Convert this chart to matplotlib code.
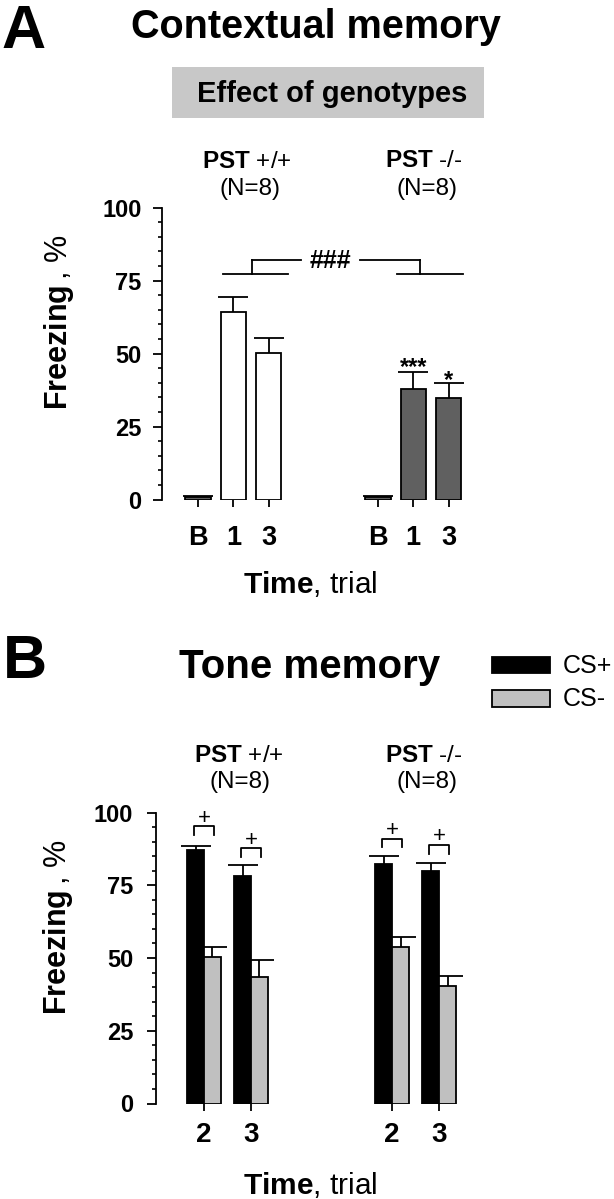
import matplotlib
matplotlib.use("Agg")
import matplotlib.pyplot as plt
from matplotlib.patches import Rectangle
from matplotlib.ticker import MultipleLocator
import numpy as np

plt.rcParams['font.family'] = ['Liberation Sans', 'DejaVu Sans']
plt.rcParams['mathtext.fontset'] = 'custom'
plt.rcParams['mathtext.rm'] = 'Liberation Sans'
plt.rcParams['mathtext.bf'] = 'Liberation Sans:bold'

# contextual memory (panel A)
ctx_labels = ['B', '1', '3']
ctx_wt_mean = [1.0, 64.1, 50.2]
ctx_wt_sem = [0.3, 5.2, 5.1]
ctx_ko_mean = [0.8, 37.8, 34.8]
ctx_ko_sem = [0.3, 5.7, 5.0]

# tone memory (panel B)
tone_labels = ['2', '3']
tone_wt_csp = [87.2, 78.1]
tone_wt_csp_sem = [1.4, 4.0]
tone_wt_csm = [50.5, 43.3]
tone_wt_csm_sem = [3.2, 6.1]
tone_ko_csp = [82.2, 79.9]
tone_ko_csp_sem = [2.7, 2.7]
tone_ko_csm = [53.7, 40.4]
tone_ko_csm_sem = [3.4, 3.3]
plus_y = [95.2, 87.8, 91.0, 88.9]

W, H = 614, 1199
fig = plt.figure(figsize=(W / 100, H / 100), dpi=100)


def fx(px):
    return px / W


def fy(px):
    return 1 - px / H


def up_err(ax, x, y, e, cap):
    # upper error bar only
    _, caps, _ = ax.errorbar(x, y, yerr=[np.zeros(len(y)), e], fmt='none', ecolor='black',
                             elinewidth=1.3, capsize=cap, capthick=1.3)
    for c in caps:
        if np.allclose(c.get_ydata(), y):
            c.set_visible(False)


def style_axis(ax, xpos, xlabels, xsize, xpad, ypad):
    for s in ['top', 'right', 'bottom']:
        ax.spines[s].set_visible(False)
    ax.spines['left'].set_linewidth(1.3)
    ax.set_ylim(0, 100)
    ax.set_yticks([0, 25, 50, 75, 100])
    ax.yaxis.set_minor_locator(MultipleLocator(5))
    ax.tick_params(axis='y', which='major', length=6.5, width=1.3, pad=ypad, labelsize=17)
    ax.tick_params(axis='y', which='minor', length=3.2, width=1.2)
    for t in ax.get_yticklabels():
        t.set_fontweight('bold')
    ax.set_xticks(xpos)
    ax.set_xticklabels(xlabels, fontweight='bold', fontsize=xsize)
    ax.tick_params(axis='x', length=5, width=1.3, pad=xpad)


# ---------- panel A ----------
axA = fig.add_axes([fx(161.7), fy(499.5), fx(308), (499.5 - 207.5) / H])
pos_wt = np.arange(3)
pos_ko = np.arange(3) + 5.1
w = 0.72
axA.bar(pos_wt, ctx_wt_mean, w, color=['#606060', 'white', 'white'], edgecolor='black', linewidth=1.3)
axA.bar(pos_ko, ctx_ko_mean, w, color='#606060', edgecolor='black', linewidth=1.3)
up_err(axA, pos_wt, ctx_wt_mean, ctx_wt_sem, 10.5)
up_err(axA, pos_ko, ctx_ko_mean, ctx_ko_sem, 10.5)
axA.set_xlim(-1.03, 7.7)
style_axis(axA, np.concatenate([pos_wt, pos_ko]), ctx_labels * 2, 19.5, 13, 8)

lo, hi = 77.1, 82.1
kw = dict(color='black', lw=1.3, clip_on=False)
axA.plot([pos_wt[1] - 0.3, pos_wt[2] + 0.54], [lo, lo], **kw)
axA.plot([pos_wt[1] + 0.52] * 2, [lo, hi], **kw)
axA.plot([pos_wt[1] + 0.52, pos_wt[2] + 0.91], [hi, hi], **kw)
axA.plot([pos_ko[0] - 0.51, pos_ko[1] + 0.18], [hi, hi], **kw)
axA.plot([pos_ko[1] + 0.18] * 2, [lo, hi], **kw)
axA.plot([pos_ko[1] - 0.47, pos_ko[2] + 0.42], [lo, lo], **kw)
axA.text((pos_wt[2] + 0.91 + pos_ko[0] - 0.51) / 2, 79.3, '###', ha='center', va='baseline',
         fontsize=18, fontweight='bold')
axA.text(pos_ko[1], ctx_ko_mean[1] + ctx_ko_sem[1] - 0.5, '***', ha='center', va='baseline',
         fontsize=17, fontweight='bold')
axA.text(pos_ko[2], ctx_ko_mean[2] + ctx_ko_sem[2] - 1.3, '*', ha='center', va='baseline',
         fontsize=17, fontweight='bold')

fig.text(fx(1), fy(48), 'A', fontsize=44, fontweight='bold', ha='left', va='baseline')
fig.text(fx(316), fy(38), 'Contextual memory', fontsize=28.5, fontweight='bold', ha='center', va='baseline')
fig.patches.append(Rectangle((fx(172), fy(118)), fx(312), (118 - 67) / H, transform=fig.transFigure,
                             facecolor='#c8c8c8', edgecolor='none'))
fig.text(fx(332), fy(102), 'Effect of genotypes', fontsize=21, fontweight='bold', ha='center', va='baseline')
fig.text(fx(247), fy(168), r'$\mathbf{PST}$ +/+', fontsize=17.5, ha='center', va='baseline')
fig.text(fx(250), fy(195), '(N=8)', fontsize=17.5, ha='center', va='baseline')
fig.text(fx(424), fy(167), r'$\mathbf{PST}$ -/-', fontsize=17.5, ha='center', va='baseline')
fig.text(fx(427), fy(195), '(N=8)', fontsize=17.5, ha='center', va='baseline')
fig.text(fx(59), fy(322), r'$\mathbf{Freezing}\,$, %', fontsize=22, rotation=90, ha='center', va='center')
fig.text(fx(310), fy(593.5), r'$\mathbf{Time}$, trial', fontsize=21.5, ha='center', va='baseline')

# ---------- panel B ----------
axB = fig.add_axes([fx(156), fy(1103.5), fx(316), (1103.5 - 812.5) / H])
pair_wt = np.arange(2)
pair_ko = np.arange(2) + 4
bw = 0.36
for pos, csp, csp_e, csm, csm_e in [(pair_wt, tone_wt_csp, tone_wt_csp_sem, tone_wt_csm, tone_wt_csm_sem),
                                    (pair_ko, tone_ko_csp, tone_ko_csp_sem, tone_ko_csm, tone_ko_csm_sem)]:
    axB.bar(pos - bw / 2, csp, bw, color='black', edgecolor='black', linewidth=1.3)
    axB.bar(pos + bw / 2, csm, bw, color='#c0c0c0', edgecolor='black', linewidth=1.3)
    up_err(axB, pos - bw / 2, csp, csp_e, 10.5)
    up_err(axB, pos + bw / 2, csm, csm_e, 10.5)
axB.set_xlim(-1.02, 5.7)
pairs = np.concatenate([pair_wt, pair_ko])
style_axis(axB, pairs, tone_labels * 2, 20, 8, 10)

for p, yb in zip(pairs, plus_y):
    axB.plot([p - 0.22, p - 0.22, p + 0.22, p + 0.22], [yb - 3, yb, yb, yb - 3], **kw)
    axB.text(p, yb + 0.8, '+', ha='center', va='baseline', fontsize=16)

fig.text(fx(3), fy(678), 'B', fontsize=44, fontweight='bold', ha='left', va='baseline')
fig.text(fx(310), fy(678), 'Tone memory', fontsize=29, fontweight='bold', ha='center', va='baseline')
fig.patches.append(Rectangle((fx(492), fy(673)), fx(58), 16 / H, transform=fig.transFigure,
                             facecolor='black', edgecolor='black', lw=1.3))
fig.patches.append(Rectangle((fx(492), fy(707)), fx(58), 17 / H, transform=fig.transFigure,
                             facecolor='#c0c0c0', edgecolor='black', lw=1.3))
fig.text(fx(563), fy(666), 'CS+', fontsize=18, ha='left', va='center')
fig.text(fx(563), fy(699), 'CS-', fontsize=18, ha='left', va='center')
fig.text(fx(239), fy(762), r'$\mathbf{PST}$ +/+', fontsize=17.5, ha='center', va='baseline')
fig.text(fx(240), fy(788), '(N=8)', fontsize=17.5, ha='center', va='baseline')
fig.text(fx(424), fy(762), r'$\mathbf{PST}$ -/-', fontsize=17.5, ha='center', va='baseline')
fig.text(fx(427), fy(788), '(N=8)', fontsize=17.5, ha='center', va='baseline')
fig.text(fx(58), fy(927), r'$\mathbf{Freezing}\,$, %', fontsize=22, rotation=90, ha='center', va='center')
fig.text(fx(310), fy(1194), r'$\mathbf{Time}$, trial', fontsize=21.5, ha='center', va='baseline')

fig.savefig('out.png', dpi=100)
plt.close(fig)
